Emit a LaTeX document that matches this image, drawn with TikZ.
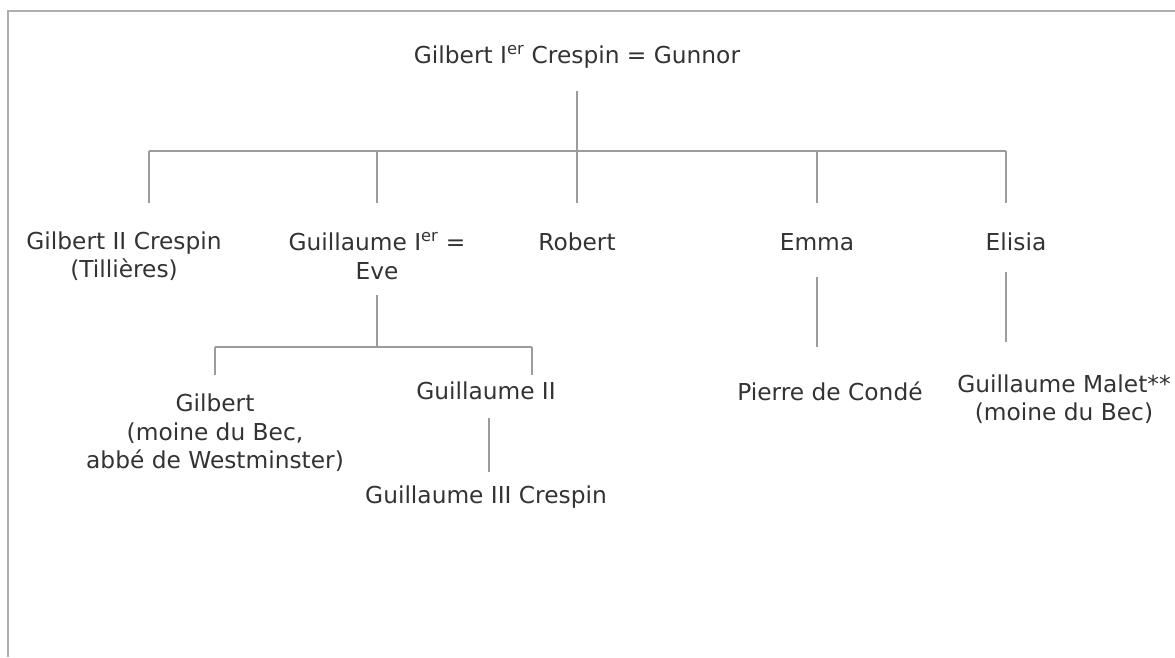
\documentclass[tikz,border=0pt]{standalone}
\usepackage{fontspec}
\setmainfont{DejaVu Sans}
\usetikzlibrary{positioning}
\definecolor{linegray}{HTML}{9C9C9C}
\definecolor{framegray}{HTML}{AEAEAE}
\definecolor{textgray}{HTML}{333333}

\begin{document}
\begin{tikzpicture}[x=1pt,y=-1pt,
  every node/.style={inner sep=0pt,align=center,text=textgray,font=\fontsize{23.3}{28.5}\selectfont},
  link/.style={draw=linegray,line width=1.6pt}]
  \useasboundingbox (0,0) rectangle (1175,657);
  \draw[framegray,line width=2pt] (1175,11) -- (8,11) -- (8,657);

  % persons
  \node (root) at (577,57) {Gilbert I\textsuperscript{er} Crespin = Gunnor};
  \node (gilb2) at (124,256) {Gilbert II Crespin\\(Tillières)};
  \node (guil1) at (377,256) {Guillaume I\textsuperscript{er} =\\Eve};
  \node (robert) at (577,242) {Robert};
  \node (emma) at (817,242) {Emma};
  \node (elisia) at (1016,242) {Elisia};

  \node (gilbert) at (215,433) {Gilbert\\(moine du Bec,\\abbé de Westminster)};
  \node (guil2) at (486,391) {Guillaume II};
  \node (guil3) at (486,497) {Guillaume III Crespin};
  \node (pierre) at (830,391) {Pierre de Condé};
  \node (malet) at (1064,399) {Guillaume Malet**\\(moine du Bec)};

  % heights of the joints
  \path (0,91) coordinate (ya) (0,151) coordinate (yb) (0,203) coordinate (yc)
        (0,295) coordinate (yd) (0,347) coordinate (ye) (0,375) coordinate (yf)
        (0,418) coordinate (yg) (0,472) coordinate (yh)
        (0,277) coordinate (yi) (0,272) coordinate (yj) (0,342) coordinate (yk);

  % first generation
  \draw[link] (root.south |- ya) -- (robert.north |- yc);
  \draw[link] ([xshift=25pt]gilb2.north |- yb) -- ([xshift=-10pt]elisia.north |- yb);
  \draw[link] ([xshift=25pt]gilb2.north |- yb) -- ([xshift=25pt]gilb2.north |- yc);
  \foreach \n in {guil1,emma}
    \draw[link] (\n.north |- yb) -- (\n.north |- yc);
  \draw[link] ([xshift=-10pt]elisia.north |- yb) -- ([xshift=-10pt]elisia.north |- yc);

  % second generation
  \draw[link] (guil1.south |- yd) -- (guil1.south |- ye);
  \draw[link] (gilbert.north |- ye) -- ([xshift=46pt]guil2.north |- ye);
  \draw[link] (gilbert.north |- ye) -- (gilbert.north |- yf);
  \draw[link] ([xshift=46pt]guil2.north |- ye) -- ([xshift=46pt]guil2.north |- yf);
  \draw[link] ([xshift=3pt]guil2.south |- yg) -- ([xshift=3pt]guil3.north |- yh);
  \draw[link] (emma.south |- yi) -- (emma.south |- ye);
  \draw[link] ([xshift=-10pt]elisia.south |- yj) -- ([xshift=-10pt]elisia.south |- yk);
\end{tikzpicture}
\end{document}
